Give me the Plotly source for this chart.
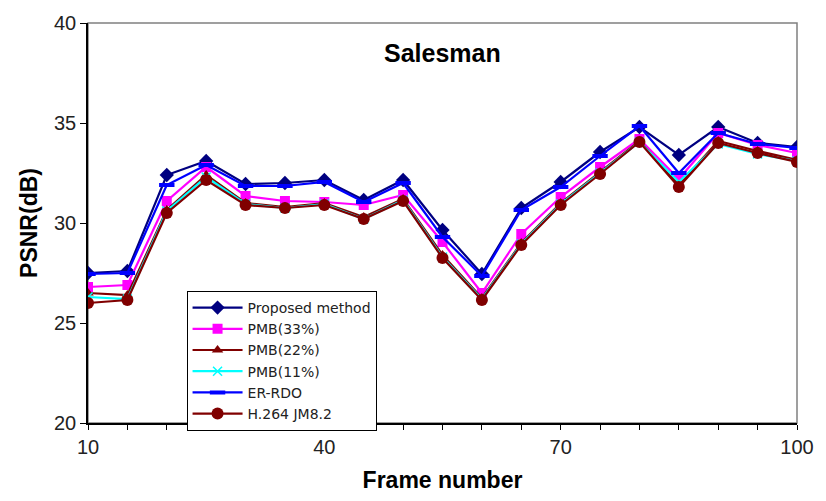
import plotly.graph_objects as go

frames = [10, 15, 20, 25, 30, 35, 40, 45, 50, 55, 60, 65, 70, 75, 80, 85, 90, 95, 100]

proposed = [27.5, 27.6, 32.4, 33.1, 31.95, 32.0, 32.15, 31.15, 32.15, 29.65, 27.45, 30.75, 32.05, 33.55, 34.8, 33.4, 34.8, 34.0, 33.8]
pmb33 = [26.8, 26.9, 31.1, 32.8, 31.35, 31.1, 31.05, 30.9, 31.4, 29.05, 26.5, 29.45, 31.3, 32.8, 34.2, 32.2, 34.5, 33.9, 33.5]
pmb22 = [26.5, 26.4, 30.65, 32.4, 31.0, 30.8, 31.0, 30.3, 31.2, 28.4, 26.25, 29.0, 31.0, 32.55, 34.1, 31.9, 34.1, 33.6, 33.15]
pmb11 = [26.3, 26.2, 30.6, 32.3, 30.95, 30.75, 30.95, 30.2, 31.15, 28.3, 26.2, 28.95, 30.95, 32.5, 34.05, 32.05, 33.95, 33.45, 33.1]
er_rdo = [27.45, 27.5, 31.9, 32.9, 31.85, 31.85, 32.05, 31.05, 32.0, 29.3, 27.35, 30.65, 31.8, 33.35, 34.85, 32.5, 34.5, 33.95, 33.75]
jm82 = [26.0, 26.15, 30.5, 32.15, 30.9, 30.75, 30.9, 30.2, 31.1, 28.25, 26.15, 28.9, 30.9, 32.45, 34.05, 31.8, 34.0, 33.5, 33.05]

series = [
    ("Proposed method", proposed, "#000080", dict(symbol="diamond", size=11)),
    ("PMB(33%)", pmb33, "#FF00FF", dict(symbol="square", size=10)),
    ("PMB(22%)", pmb22, "#800000", dict(symbol="triangle-up", size=10)),
    ("PMB(11%)", pmb11, "#00FFFF", dict(symbol="x-thin", size=9, line=dict(width=1.5, color="#00FFFF"))),
    ("ER-RDO", er_rdo, "#0000FF", dict(symbol="line-ew", size=11, line=dict(width=4, color="#0000FF"))),
    ("H.264 JM8.2", jm82, "#800000", dict(symbol="circle", size=12)),
]

fig = go.Figure()
for name, vals, color, marker in series:
    m = dict(color=color)
    m.update(marker)
    fig.add_trace(go.Scatter(
        x=frames, y=vals, name=name, mode="lines+markers",
        line=dict(color=color, width=2.2), marker=m,
    ))

font_family = "Liberation Sans, Arial, sans-serif"

# gray frame around the plotting area; left and bottom axes are drawn black on top
fig.add_shape(type="rect", xref="paper", yref="paper", x0=0, y0=0, x1=1, y1=1,
              line=dict(color="#808080", width=1.5), layer="below")

fig.update_layout(
    width=826, height=501,
    margin=dict(l=88, r=24, t=20, b=75),
    paper_bgcolor="white", plot_bgcolor="white",
    font=dict(family=font_family, color="#000000"),
    showlegend=True,
    legend=dict(
        x=0.139, y=0.33, xanchor="left", yanchor="top",
        bgcolor="white", bordercolor="#000000", borderwidth=1,
        font=dict(size=14, color="#222222", family="DejaVu Sans, sans-serif"),
        itemwidth=50, tracegroupgap=0,
    ),
    annotations=[dict(
        text="<b>Salesman</b>", xref="paper", yref="paper", x=0.5, y=0.925,
        xanchor="center", yanchor="middle", showarrow=False,
        font=dict(size=25, color="#000000"),
    )],
)

fig.update_xaxes(
    range=[10, 100], tick0=10, dtick=30,
    showline=True, linecolor="#000000", linewidth=1.5,
    ticks="outside", ticklen=5, tickcolor="#000000",
    minor=dict(dtick=5, tick0=10, ticks="outside", ticklen=5, tickcolor="#000000"),
    showgrid=False, zeroline=False,
    tickfont=dict(size=20, color="#222222"),
    title=dict(text="<b>Frame number</b>", font=dict(size=23), standoff=15),
)
fig.update_yaxes(
    range=[20, 40], tick0=20, dtick=5,
    showline=True, linecolor="#000000", linewidth=1.5,
    ticks="outside", ticklen=6, tickcolor="#000000",
    showgrid=False, zeroline=False,
    tickfont=dict(size=20, color="#222222"),
    title=dict(text="<b>PSNR(dB)</b>", font=dict(size=23), standoff=10),
)

fig.write_html("out.html")
